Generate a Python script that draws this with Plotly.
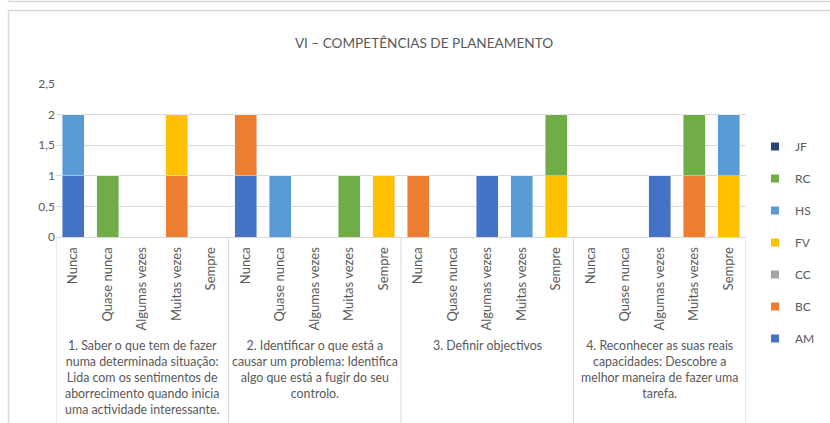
import plotly.graph_objects as go

# ---------------- data ----------------
groups = [
    "1. Saber o que tem de fazer<br>numa determinada situação:<br>Lida com os sentimentos de<br>aborrecimento quando inicia<br>uma actividade interessante.",
    "2. Identificar o que está a<br>causar um problema: Identifica<br>algo que está a fugir do seu<br>controlo.",
    "3. Definir objectivos",
    "4. Reconhecer as suas reais<br>capacidades: Descobre a<br>melhor maneira de fazer uma<br>tarefa.",
]
categories = ["Nunca", "Quase nunca", "Algumas vezes", "Muitas vezes", "Sempre"]

AM = [1, 0, 0, 0, 0,  1, 0, 0, 0, 0,  0, 0, 1, 0, 0,  0, 0, 1, 0, 0]
BC = [0, 0, 0, 1, 0,  1, 0, 0, 0, 0,  1, 0, 0, 0, 0,  0, 0, 0, 1, 0]
CC = [0, 0, 0, 0, 0,  0, 0, 0, 0, 0,  0, 0, 0, 0, 0,  0, 0, 0, 0, 0]
FV = [0, 0, 0, 1, 0,  0, 0, 0, 0, 1,  0, 0, 0, 0, 1,  0, 0, 0, 0, 1]
HS = [1, 0, 0, 0, 0,  0, 1, 0, 0, 0,  0, 0, 0, 1, 0,  0, 0, 0, 0, 1]
RC = [0, 1, 0, 0, 0,  0, 0, 0, 1, 0,  0, 0, 0, 0, 1,  0, 0, 0, 1, 0]
JF = [0, 0, 0, 0, 0,  0, 0, 0, 0, 0,  0, 0, 0, 0, 0,  0, 0, 0, 0, 0]

series_names = ["AM", "BC", "CC", "FV", "HS", "RC", "JF"]
series_values = [AM, BC, CC, FV, HS, RC, JF]
series_colors = ["#4472C4", "#ED7D31", "#A5A5A5", "#FFC000", "#5B9BD5", "#70AD47", "#264478"]

y_ticks = [0, 0.5, 1, 1.5, 2, 2.5]
title_text = "VI – COMPETÊNCIAS DE PLANEAMENTO"

# ---------------- figure ----------------
FONT = "Lato"
GREY = "#595959"
LINE = "#D9D9D9"
W, H = 830, 423
ML, MR, MT, MB = 56, 84, 84, 186
PW, PH = W - ML - MR, H - MT - MB

def px_to_paper_x(px):
    return (px - ML) / PW

def px_to_paper_y(py):
    return (H - MB - py) / PH

n_cat = len(categories)
x_labels = [c for _ in groups for c in categories]
x_pos = list(range(len(x_labels)))

fig = go.Figure()
# legend entries (top-to-bottom: JF ... AM)
for name, col in reversed(list(zip(series_names, series_colors))):
    fig.add_trace(go.Scatter(x=[None], y=[None], mode="markers", name=name,
                             legendgroup=name, hoverinfo="skip",
                             marker=dict(symbol="square", size=8, color=col)))
# stacked bars (bottom-to-top: AM ... JF)
for name, vals, col in zip(series_names, series_values, series_colors):
    fig.add_trace(go.Bar(x=x_pos, y=vals, name=name, marker_color=col,
                         legendgroup=name, showlegend=False))

shapes = []
for g in range(len(groups) + 1):
    shapes.append(dict(type="line", xref="x", yref="paper",
                       x0=g * n_cat - 0.5, x1=g * n_cat - 0.5,
                       y0=0, y1=px_to_paper_y(H + 5),
                       line=dict(color=LINE, width=1)))
shapes.append(dict(type="line", xref="paper", yref="paper",
                   x0=px_to_paper_x(8.5), x1=px_to_paper_x(W + 5),
                   y0=px_to_paper_y(10.5), y1=px_to_paper_y(10.5),
                   line=dict(color=LINE, width=1.5)))
shapes.append(dict(type="line", xref="paper", yref="paper",
                   x0=px_to_paper_x(8.5), x1=px_to_paper_x(8.5),
                   y0=px_to_paper_y(10.5), y1=px_to_paper_y(H + 5),
                   line=dict(color=LINE, width=1.5)))
shapes.append(dict(type="line", xref="paper", yref="paper",
                   x0=px_to_paper_x(8.5), x1=px_to_paper_x(W + 5),
                   y0=px_to_paper_y(1.5), y1=px_to_paper_y(1.5),
                   line=dict(color=LINE, width=1.5)))
shapes.append(dict(type="line", xref="paper", yref="paper",
                   x0=px_to_paper_x(8.5), x1=px_to_paper_x(8.5),
                   y0=px_to_paper_y(-5), y1=px_to_paper_y(1.5),
                   line=dict(color=LINE, width=1.5)))

annotations = []
for g, label in enumerate(groups):
    annotations.append(dict(text=label, xref="x", yref="paper",
                            x=g * n_cat + (n_cat - 1) / 2, y=px_to_paper_y(336),
                            xanchor="center", yanchor="top", align="center",
                            showarrow=False,
                            font=dict(family=FONT, size=12.4, color=GREY)))

fig.update_layout(
    width=W, height=H,
    margin=dict(l=ML, r=MR, t=MT, b=MB, autoexpand=False),
    paper_bgcolor="white", plot_bgcolor="white",
    barmode="stack", bargap=0.36,
    separators=", ",
    font=dict(family=FONT, size=12, color=GREY),
    title=dict(text=title_text, x=424 / W, xref="container", xanchor="center",
               y=1 - 43 / H, yref="container", yanchor="middle",
               font=dict(family=FONT, size=13.6, color=GREY)),
    xaxis=dict(range=[-0.5, len(x_labels) - 0.5], tickmode="array",
               tickvals=x_pos, ticktext=x_labels, tickangle=-90,
               showgrid=False, zeroline=False, showline=True,
               linecolor=LINE, linewidth=1, ticks="", automargin=False,
               ticklabelstandoff=4,
               tickfont=dict(family=FONT, size=13, color=GREY)),
    yaxis=dict(range=[0, 2.5], tickmode="array", tickvals=y_ticks,
               showgrid=True, gridcolor=LINE, gridwidth=1, zeroline=False,
               showline=False, ticks="", automargin=False,
               tickfont=dict(family=FONT, size=12, color=GREY)),
    legend=dict(x=755 / W, xref="container", xanchor="left",
                y=1 - 132 / H, yref="container", yanchor="top",
                maxheight=1,
                traceorder="grouped", tracegroupgap=13,
                font=dict(family=FONT, size=12, color=GREY),
                bgcolor="rgba(0,0,0,0)", itemwidth=30),
    shapes=shapes,
    annotations=annotations,
)

fig.write_html("out.html",
               config={"displayModeBar": False},
               post_script="document.body.style.margin='0';document.body.style.overflow='hidden';")
